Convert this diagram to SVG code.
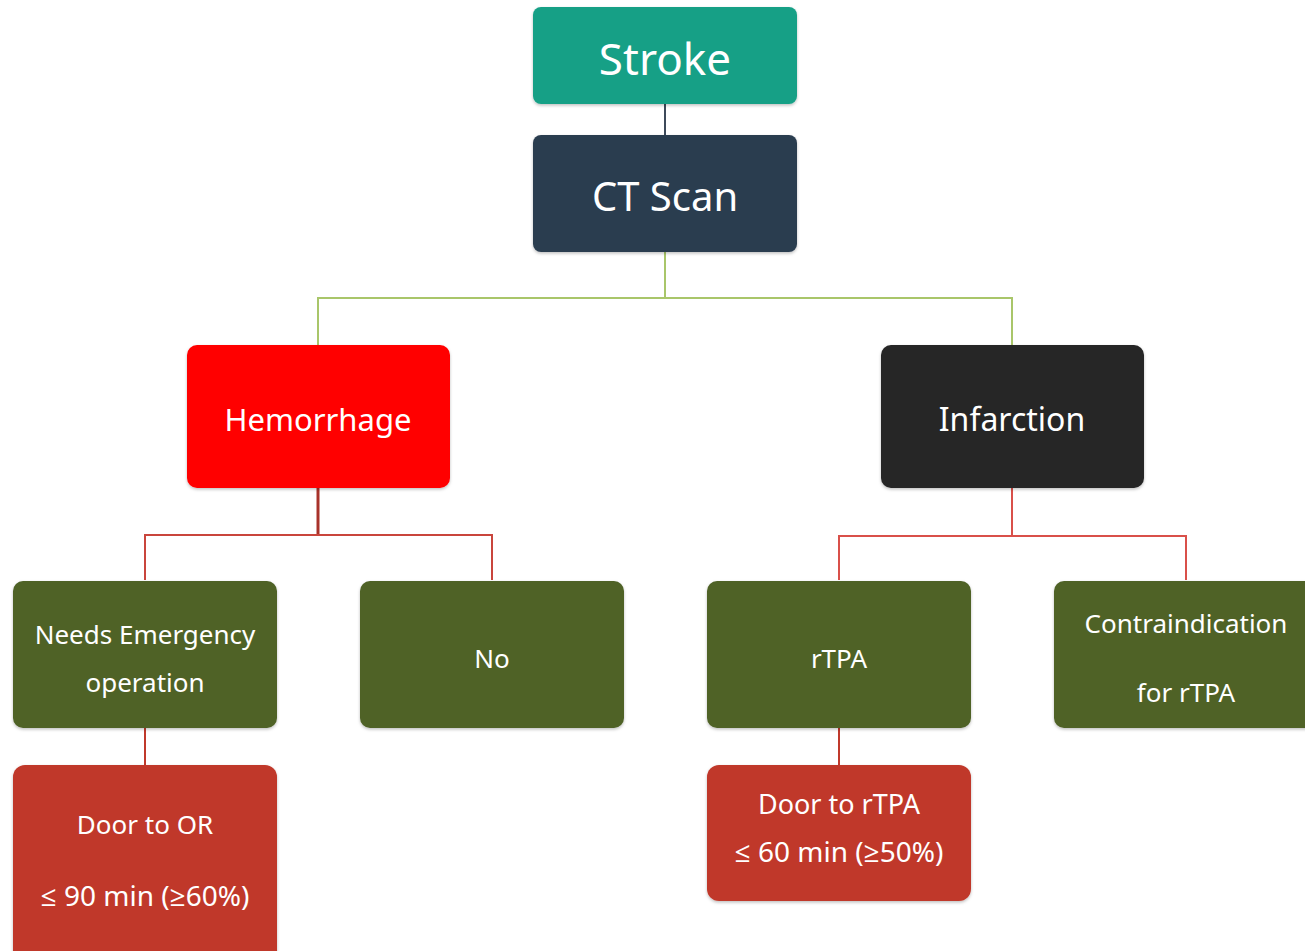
<svg xmlns="http://www.w3.org/2000/svg" width="1305" height="951" viewBox="0 0 1305 951">
<defs>
<filter id="sh" x="-5%" y="-5%" width="110%" height="115%">
<feDropShadow dx="0" dy="1.5" stdDeviation="1.5" flood-color="#000" flood-opacity="0.25"/>
</filter>
</defs>
<style>
text{font-family:"Noto Sans","Open Sans","DejaVu Sans",sans-serif;fill:#fff;text-anchor:middle}
.box{filter:url(#sh)}
.c{fill:none}
</style>
<rect width="1305" height="951" fill="#fff"/>
<g id="connectors" class="c">
<line x1="665" y1="104" x2="665" y2="135" stroke="#3d4a5a" stroke-width="2"/>
<path d="M665 252V298M318 345V298H1012V345" stroke="#a9c66a" stroke-width="2" fill="none"/>
<line x1="318" y1="488" x2="318" y2="535" stroke="#a8322a" stroke-width="3"/>
<path d="M145 580V535H492V580" stroke="#c9453c" stroke-width="2" fill="none"/>
<path d="M1012 488V536M839 580V536H1186V580" stroke="#d9504a" stroke-width="2" fill="none"/>
<line x1="145" y1="728" x2="145" y2="765" stroke="#c0392b" stroke-width="2"/>
<line x1="839" y1="728" x2="839" y2="765" stroke="#c0392b" stroke-width="2"/>
</g>
<g id="stroke">
<rect class="box" x="533" y="7" width="264" height="97" rx="8" fill="#17a086"/>
<text x="665" y="75" font-size="44">Stroke</text>
</g>
<g id="ctscan">
<rect class="box" x="533" y="135" width="264" height="117" rx="8" fill="#2c3e50"/>
<text x="665" y="211" font-size="40">CT Scan</text>
</g>
<g id="hemorrhage">
<rect class="box" x="187" y="345" width="263" height="143" rx="10" fill="#ff0000"/>
<text x="318" y="431" font-size="31">Hemorrhage</text>
</g>
<g id="infarction">
<rect class="box" x="881" y="345" width="263" height="143" rx="10" fill="#262626"/>
<text x="1012" y="431" font-size="32">Infarction</text>
</g>
<g id="needs">
<rect class="box" x="13" y="581" width="264" height="147" rx="10" fill="#4f6228"/>
<text x="145" y="644" font-size="26">Needs Emergency</text>
<text x="145" y="692" font-size="26">operation</text>
</g>
<g id="no">
<rect class="box" x="360" y="581" width="264" height="147" rx="10" fill="#4f6228"/>
<text x="492" y="668" font-size="26">No</text>
</g>
<g id="rtpa">
<rect class="box" x="707" y="581" width="264" height="147" rx="10" fill="#4f6228"/>
<text x="839" y="668" font-size="26">rTPA</text>
</g>
<g id="contra">
<rect class="box" x="1054" y="581" width="270" height="147" rx="10" fill="#4f6228"/>
<text x="1186" y="633" font-size="26">Contraindication</text>
<text x="1186" y="702" font-size="26">for rTPA</text>
</g>
<g id="door-or">
<rect class="box" x="13" y="765" width="264" height="200" rx="12" fill="#c0392b"/>
<text x="145" y="834" font-size="26">Door to OR</text>
<text x="145" y="906" font-size="28">≤ 90 min (≥60%)</text>
</g>
<g id="door-rtpa">
<rect class="box" x="707" y="765" width="264" height="136" rx="12" fill="#c0392b"/>
<text x="839" y="814" font-size="27">Door to rTPA</text>
<text x="839" y="862" font-size="28">≤ 60 min (≥50%)</text>
</g>
</svg>
